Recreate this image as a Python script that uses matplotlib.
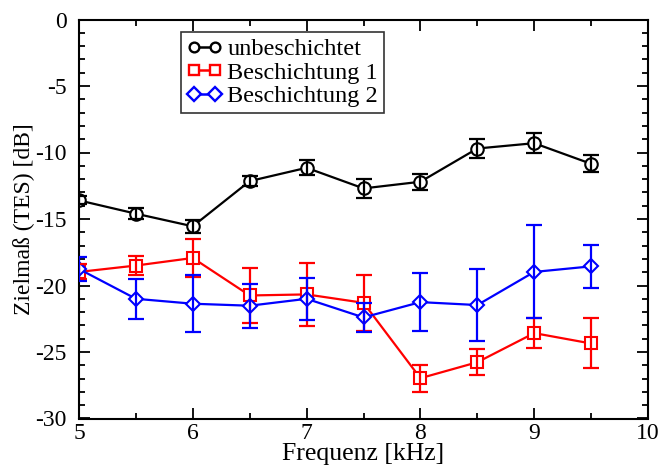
import matplotlib
matplotlib.use("Agg")
import matplotlib.pyplot as plt
from matplotlib.ticker import MultipleLocator

plt.rcParams['font.family'] = ['Liberation Serif', 'DejaVu Serif']
plt.rcParams['axes.unicode_minus'] = False

freq = [5.0, 5.5, 6.0, 6.5, 7.0, 7.5, 8.0, 8.5, 9.0, 9.5]

unbeschichtet = [-13.6, -14.6, -15.55, -12.15, -11.15, -12.7, -12.2, -9.7, -9.3, -10.85]
unbeschichtet_err = [0.3, 0.4, 0.48, 0.4, 0.55, 0.7, 0.6, 0.73, 0.74, 0.63]

beschichtung1 = [-18.98, -18.5, -17.93, -20.75, -20.67, -21.3, -26.97, -25.77, -23.58, -24.36]
beschichtung1_err = [0.56, 0.72, 1.43, 2.1, 2.36, 2.1, 1.0, 0.98, 1.1, 1.88]

beschichtung2 = [-18.76, -21.0, -21.37, -21.52, -21.0, -22.4, -21.25, -21.47, -18.98, -18.56]
beschichtung2_err = [0.9, 1.5, 2.16, 1.65, 1.57, 1.09, 2.19, 2.68, 3.5, 1.63]

series = [
    ("unbeschichtet", unbeschichtet, unbeschichtet_err, "black", "o", 9),
    ("Beschichtung 1", beschichtung1, beschichtung1_err, "#ff0000", "s", 8),
    ("Beschichtung 2", beschichtung2, beschichtung2_err, "#0000ff", "D", 7.5),
]

fig = plt.figure(figsize=(6.61, 4.66), dpi=100)
ax = fig.add_axes([79/661, 1-418.5/466, (648-79)/661, (418.5-19.5)/466])

for label, y, err, c, m, ms in series:
    ax.plot(freq, y, color=c, lw=1.6, marker=m, ms=ms, mfc='white', mec=c,
            mew=1.5, label=label, zorder=2)
    ax.errorbar(freq, y, yerr=err, fmt='none', ecolor=c, elinewidth=1.6,
                capsize=5.5, capthick=1.6, zorder=3)

ax.set_xlim(5, 10)
ax.set_ylim(-30, 0)
ax.xaxis.set_major_locator(MultipleLocator(1))
ax.xaxis.set_minor_locator(MultipleLocator(0.5))
ax.yaxis.set_major_locator(MultipleLocator(5))
ax.yaxis.set_minor_locator(MultipleLocator(1))
ax.tick_params(which='both', direction='in', top=True, right=True, width=1.3)
ax.tick_params(which='major', length=8, labelsize=17)
ax.tick_params(which='minor', length=4)
ax.tick_params(axis='x', which='major', pad=3)
ax.tick_params(axis='y', which='major', pad=9)
for s in ax.spines.values():
    s.set_linewidth(1.5)

ax.set_xlabel("Frequenz [kHz]", fontsize=18.5)
ax.xaxis.set_label_coords(0.5, (418.5 - 443) / 399)
ax.set_ylabel("Zielmaß (TES) [dB]", fontsize=17)
ax.yaxis.set_label_coords((35 - 79) / 569, 0.5)

leg = ax.legend(loc='upper left', bbox_to_anchor=((181 - 79) / 569, 1 - (32 - 19.5) / 399),
                bbox_transform=ax.transAxes, numpoints=2, handlelength=1.45,
                handletextpad=0.2, borderpad=0.25, labelspacing=0.06,
                fontsize=17.5, frameon=True, fancybox=False, borderaxespad=0)
leg.get_frame().set_edgecolor('black')
leg.get_frame().set_linewidth(1.2)
for h in leg.legend_handles:
    h.set_markersize(7)
    h.set_markeredgewidth(1.7)
    h.set_linewidth(1.8)

fig.savefig("out.png", dpi=100)
